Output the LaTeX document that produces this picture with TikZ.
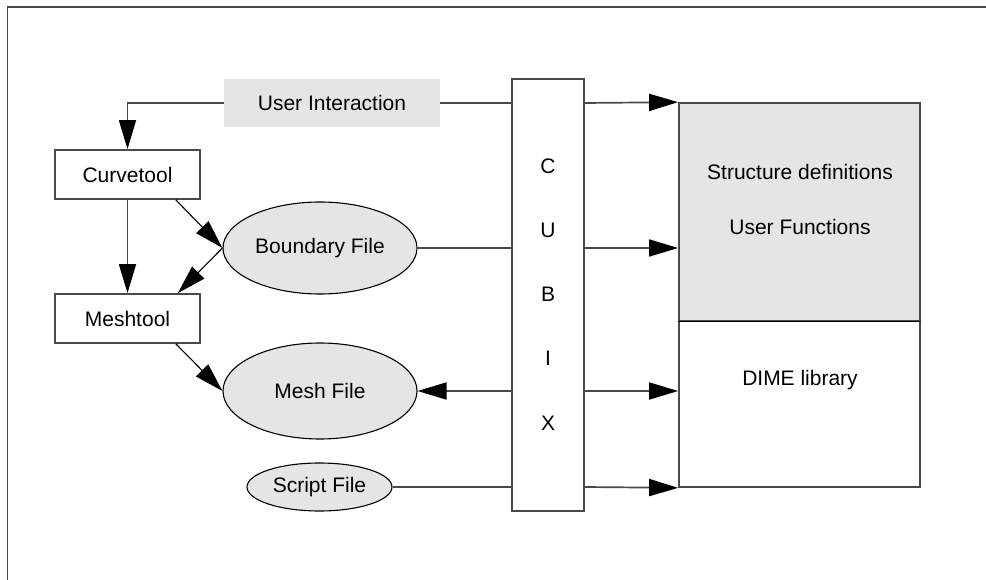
\documentclass[tikz,border=0pt]{standalone}
\usepackage{fontspec}
\setmainfont{Liberation Sans}
\usetikzlibrary{arrows.meta,shapes.geometric,calc}
\definecolor{linegray}{HTML}{4A4A4A}
\definecolor{panel}{HTML}{E5E5E5}
\tikzset{
  txt/.style={font=\fontsize{21}{25}\selectfont, text=black, inner sep=0pt},
  toolbox/.style={draw=linegray, line width=1.7pt, rectangle, inner sep=0pt},
  filenode/.style={draw=black, line width=1.1pt, ellipse, fill=panel, inner sep=0pt, font=\fontsize{21}{25}\selectfont},
  wire/.style={draw=linegray, line width=1.7pt},
  flow/.style={wire, -{Triangle[length=29pt,width=17pt,fill=black,color=black]}},
  slimflow/.style={draw=black, line width=1.1pt, -{Triangle[length=29pt,width=17pt,fill=black,color=black]}},
}
\begin{document}
\begin{tikzpicture}[x=1pt,y=-1pt]
  \useasboundingbox (0,0) rectangle (986,580);
  % outer frame (top and left edges)
  \draw[wire] (7.5,580) -- (7.5,7) -- (986,7);

  % user interaction label
  \node[fill=panel, minimum width=216pt, minimum height=48pt, inner sep=0pt, font=\fontsize{21}{25}\selectfont] (ui) at (332,103) {User Interaction};

  % tools
  \node[toolbox, minimum width=145pt, minimum height=49pt, font=\fontsize{21}{25}\selectfont] (curve) at (127.5,174.5) {Curvetool};
  \node[toolbox, minimum width=145pt, minimum height=49pt, font=\fontsize{21}{25}\selectfont] (meshtool) at (127.5,318.5) {Meshtool};

  % files
  \node[filenode, minimum width=194pt, minimum height=92pt] (bnd) at (320,248) {Boundary File};
  \node[filenode, minimum width=194pt, minimum height=96pt] (meshf) at (320,391) {Mesh File};
  \node[filenode, minimum width=145pt, minimum height=48pt] (script) at (319.5,487) {Script File};

  % CUBIX column
  \node[toolbox, minimum width=72pt, minimum height=432pt] (cubix) at (548,295) {};
  \node[txt] (cC) at (548,166) {C};
  \node[txt] (cU) at (548,230) {U};
  \node[txt] (cB) at (548,294) {B};
  \node[txt] (cI) at (548,358) {I};
  \node[txt] (cX) at (548,423) {X};

  % library block
  \node[draw=linegray, line width=1.7pt, fill=panel, minimum width=241pt, minimum height=218pt, inner sep=0pt] (defs) at (799.5,212) {};
  \node[draw=linegray, line width=1.7pt, minimum width=241pt, minimum height=166pt, inner sep=0pt] (dime) at (799.5,404) {};
  \draw[black, line width=1.3pt] (defs.south west) -- (defs.south east);
  \node[txt] (t1) at (800,172) {Structure definitions};
  \node[txt] (t2) at (800,227) {User Functions};
  \node[txt] (t3) at (800,380) {DIME library};

  % tool chain
  \draw[flow] (ui.west) -| (curve.north);
  \draw[flow] (curve.south) -- (meshtool.north);
  \draw[slimflow] ([xshift=-25pt]curve.south east) -- (bnd.west);
  \draw[slimflow] (bnd.west) -- ([xshift=-23pt]meshtool.north east);
  \draw[slimflow] ([xshift=-25pt]meshtool.south east) -- (meshf.west);

  % connections through CUBIX
  \draw[wire] (ui.east) -- (ui.east -| cubix.west);
  \draw[flow] (ui.east -| cubix.east) -- (defs.north west);
  \draw[wire] (bnd.east) -- (bnd.east -| cubix.west);
  \draw[flow] (bnd.east -| cubix.east) -- (bnd.east -| defs.west);
  \draw[flow] (meshf.east -| cubix.west) -- (meshf.east);
  \draw[flow] (meshf.east -| cubix.east) -- (meshf.east -| dime.west);
  \draw[wire] (script.east) -- (script.east -| cubix.west);
  \draw[flow] (script.east -| cubix.east) -- (dime.south west);
\end{tikzpicture}
\end{document}
